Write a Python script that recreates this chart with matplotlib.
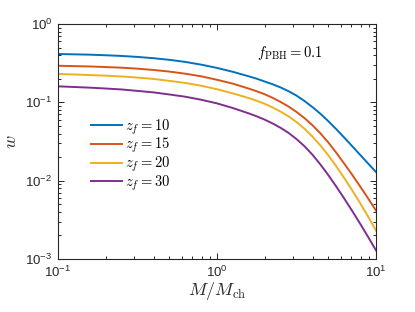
import matplotlib
matplotlib.use("Agg")
import matplotlib.pyplot as plt
from matplotlib.ticker import FixedLocator, FixedFormatter, LogLocator, NullFormatter

plt.rcParams['font.family'] = ['Liberation Sans', 'DejaVu Sans']
plt.rcParams['mathtext.fontset'] = 'cm'

mass = [0.1, 0.126, 0.158, 0.2, 0.251, 0.316, 0.398, 0.501, 0.631, 0.794,
        1, 1.26, 1.58, 1.78, 2, 2.24, 2.51, 2.82, 3.16, 3.55, 3.98, 4.47,
        5.01, 5.62, 6.31, 7.08, 7.94, 8.91, 10]
w_z10 = [0.414, 0.410, 0.406, 0.399, 0.391, 0.380, 0.366, 0.349, 0.328, 0.303,
         0.275, 0.245, 0.2153, 0.200, 0.184, 0.170, 0.155, 0.1386, 0.122, 0.104,
         0.0871, 0.0715, 0.0575, 0.0455, 0.0355, 0.0276, 0.0214, 0.0166, 0.0129]
w_z15 = [0.293, 0.290, 0.287, 0.282, 0.277, 0.269, 0.259, 0.247, 0.232, 0.215,
         0.194, 0.173, 0.150, 0.1384, 0.1265, 0.114, 0.1012, 0.0883, 0.0755, 0.0629,
         0.0511, 0.0402, 0.0308, 0.0228, 0.0165, 0.0119, 0.00847, 0.00596, 0.00415]
w_z20 = [0.230, 0.227, 0.223, 0.219, 0.214, 0.207, 0.199, 0.188, 0.177, 0.163,
         0.147, 0.130, 0.1135, 0.1047, 0.0955, 0.0860, 0.0762, 0.0662, 0.0561, 0.0460,
         0.0366, 0.0282, 0.0211, 0.0153, 0.0108, 0.00755, 0.00518, 0.00349, 0.00231]
w_z30 = [0.160, 0.157, 0.154, 0.150, 0.146, 0.140, 0.134, 0.126, 0.118, 0.108,
         0.0970, 0.0845, 0.0724, 0.0662, 0.0600, 0.0537, 0.0473, 0.0407, 0.0340, 0.0275,
         0.0215, 0.0161, 0.0118, 0.00843, 0.00592, 0.00412, 0.00283, 0.00192, 0.00129]
series = [w_z10, w_z15, w_z20, w_z30]
labels = [r'$z_f = 10$', r'$z_f = 15$', r'$z_f = 20$', r'$z_f = 30$']
colors = ['#0072BD', '#D95319', '#EDB120', '#7E2F8E']

xticks = [0.1, 1, 10]
xticklabels = [r'$\mathregular{10^{-1}}$', r'$\mathregular{10^{0}}$', r'$\mathregular{10^{1}}$']
yticks = [0.001, 0.01, 0.1, 1]
yticklabels = [r'$\mathregular{10^{-3}}$', r'$\mathregular{10^{-2}}$',
               r'$\mathregular{10^{-1}}$', r'$\mathregular{10^{0}}$']

fig = plt.figure(figsize=(4.15, 3.12), dpi=100)
ax = fig.add_axes([58/415, 1-259/312, 318/415, 235/312])

for ys, lab, c in zip(series, labels, colors):
    ax.plot(mass, ys, color=c, lw=1.4, label=lab, solid_joinstyle='round')

ax.set_xscale('log')
ax.set_yscale('log')
ax.set_xlim(0.1, 10)
ax.set_ylim(1e-3, 1)

ax.xaxis.set_major_locator(FixedLocator(xticks))
ax.xaxis.set_major_formatter(FixedFormatter(xticklabels))
ax.yaxis.set_major_locator(FixedLocator(yticks))
ax.yaxis.set_major_formatter(FixedFormatter(yticklabels))
ax.xaxis.set_minor_locator(LogLocator(base=10, subs=range(2, 10)))
ax.yaxis.set_minor_locator(LogLocator(base=10, subs=range(2, 10)))
ax.xaxis.set_minor_formatter(NullFormatter())
ax.yaxis.set_minor_formatter(NullFormatter())

dark = '#262626'
for s in ax.spines.values():
    s.set_color(dark)
    s.set_linewidth(0.8)
ax.tick_params(which='both', direction='in', top=True, right=True, colors=dark,
               labelsize=9.5, width=0.7)
ax.tick_params(which='major', length=4.5, pad=4)
ax.tick_params(which='minor', length=2.5)

ax.set_xlabel(r'$M/M_{\rm ch}$', fontsize=13, labelpad=0, color=dark)
ax.set_ylabel(r'$w$', fontsize=13, labelpad=4, color=dark)

ax.text(0.625, 0.877, r'$f_{\rm PBH} = 0.1$', transform=ax.transAxes,
        fontsize=10.5, va='center', ha='left', color='black')

ax.legend(loc='center left', bbox_to_anchor=(0.104, 0.442), frameon=False,
          fontsize=10.5, handlelength=2.1, handletextpad=0.2, labelspacing=-0.05,
          borderpad=0, borderaxespad=0)

fig.savefig('out.png', dpi=100)
